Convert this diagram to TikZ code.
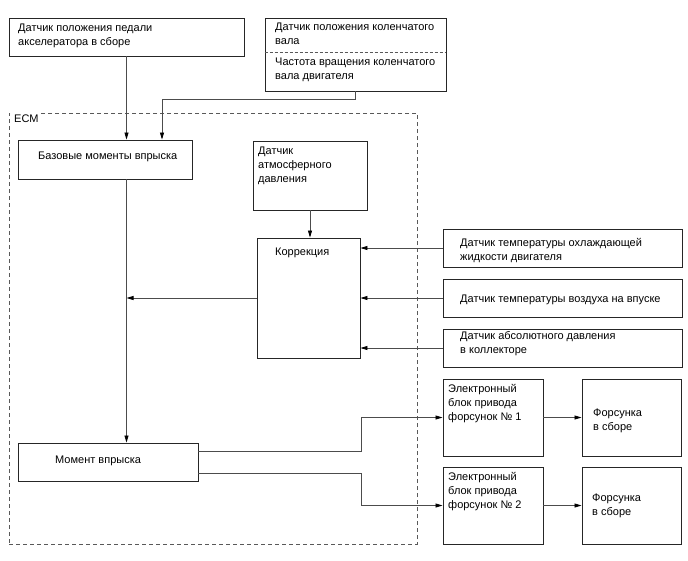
\documentclass[tikz,border=0pt]{standalone}
\usepackage{fontspec}
\setmainfont{Liberation Sans}
\usetikzlibrary{arrows.meta}
\begin{document}
\begin{tikzpicture}[x=1pt,y=-1pt,
  box/.style={draw=black!85, line width=0.9pt, inner sep=0pt},
  ecmbox/.style={draw=black!65, line width=0.8pt, dash pattern=on 4pt off 3pt, inner sep=0pt},
  txt/.style={anchor=north west, inner sep=0pt, align=left, font=\fontsize{11}{14}\selectfont},
  conn/.style={draw=black!70, line width=0.8pt},
  arr/.style={conn, -{Triangle[length=7pt,width=4pt,fill=black,color=black]}}]
\path[use as bounding box] (0,0) rectangle (688,560);

% boxes
\node[ecmbox, minimum width=408pt, minimum height=431pt] (ecm) at (213,328.5) {};
\node[box, minimum width=235pt, minimum height=38pt] (pedal) at (126.5,37) {};
\node[box, minimum width=181pt, minimum height=73pt] (crank) at (355.5,54.5) {};
\node[box, minimum width=174pt, minimum height=39pt] (base) at (105,159.5) {};
\node[box, minimum width=114pt, minimum height=69pt] (atm) at (310,175.5) {};
\node[box, minimum width=103pt, minimum height=120pt] (corr) at (308.5,298) {};
\node[box, minimum width=239pt, minimum height=38pt] (cool) at (562.5,248) {};
\node[box, minimum width=239pt, minimum height=38pt] (air) at (562.5,298) {};
\node[box, minimum width=239pt, minimum height=38pt] (map) at (562.5,348) {};
\node[box, minimum width=180pt, minimum height=38pt] (moment) at (108,462) {};
\node[box, minimum width=100pt, minimum height=77pt] (ecu1) at (493,417.5) {};
\node[box, minimum width=99pt, minimum height=77pt] (inj1) at (631.5,417.5) {};
\node[box, minimum width=100pt, minimum height=77pt] (ecu2) at (493,505.5) {};
\node[box, minimum width=99pt, minimum height=77pt] (inj2) at (631.5,505.5) {};

% separator in crank box
\draw[black!65, line width=0.8pt, dash pattern=on 3pt off 2pt] (crank.west |- 0,52) -- (crank.east |- 0,52);

% texts
\node[anchor=base west, inner sep=1pt, fill=white, font=\fontsize{11}{14}\selectfont] (tecm) at (13,122) {ECM};
\node[txt] (tpedal) at (18,21.2) {\strut Датчик положения педали\\акселератора в сборе};
\node[txt] (tcrank1) at (275,20.2) {\strut Датчик положения коленчатого\\вала};
\node[txt] (tcrank2) at (275,55.2) {\strut Частота вращения коленчатого\\вала двигателя};
\node[txt] (tbase) at (38,149.2) {\strut Базовые моменты впрыска};
\node[txt] (tatm) at (258,144.2) {\strut Датчик\\атмосферного\\давления};
\node[txt] (tcorr) at (275,245.2) {\strut Коррекция};
\node[txt] (tcool) at (460,236.2) {\strut Датчик температуры охлаждающей\\жидкости двигателя};
\node[txt] (tair) at (460,292.2) {\strut Датчик температуры воздуха на впуске};
\node[txt] (tmap) at (460,329.2) {\strut Датчик абсолютного давления\\в коллекторе};
\node[txt] (tmoment) at (55,453.2) {\strut Момент впрыска};
\node[txt] (tecu1) at (448,382.2) {\strut Электронный\\блок привода\\форсунок № 1};
\node[txt] (tinj1) at (593,406.2) {\strut Форсунка\\в сборе};
\node[txt] (tecu2) at (448,470.2) {\strut Электронный\\блок привода\\форсунок № 2};
\node[txt] (tinj2) at (592,491.2) {\strut Форсунка\\в сборе};

% connectors
\draw[arr] (pedal.south) -- (pedal.south |- base.north);
\draw[arr] (crank.south -| 355,0) |- (162,99) -- (base.north -| 162,0);
\draw[arr] (atm.south) -- (atm.south |- corr.north);
\draw[arr] (cool.west) -- (cool.west -| corr.east);
\draw[arr] (air.west) -- (air.west -| corr.east);
\draw[arr] (map.west) -- (map.west -| corr.east);
\draw[arr] (corr.west) -- (corr.west -| pedal.south);
\draw[arr] (base.south -| pedal.south) -- (moment.north -| pedal.south);
\draw[arr] (moment.east |- 0,451) -- (361,451) |- (ecu1.west);
\draw[arr] (moment.east |- 0,473) -- (361,473) |- (ecu2.west);
\draw[arr] (ecu1.east) -- (inj1.west);
\draw[arr] (ecu2.east) -- (inj2.west);
\end{tikzpicture}
\end{document}
